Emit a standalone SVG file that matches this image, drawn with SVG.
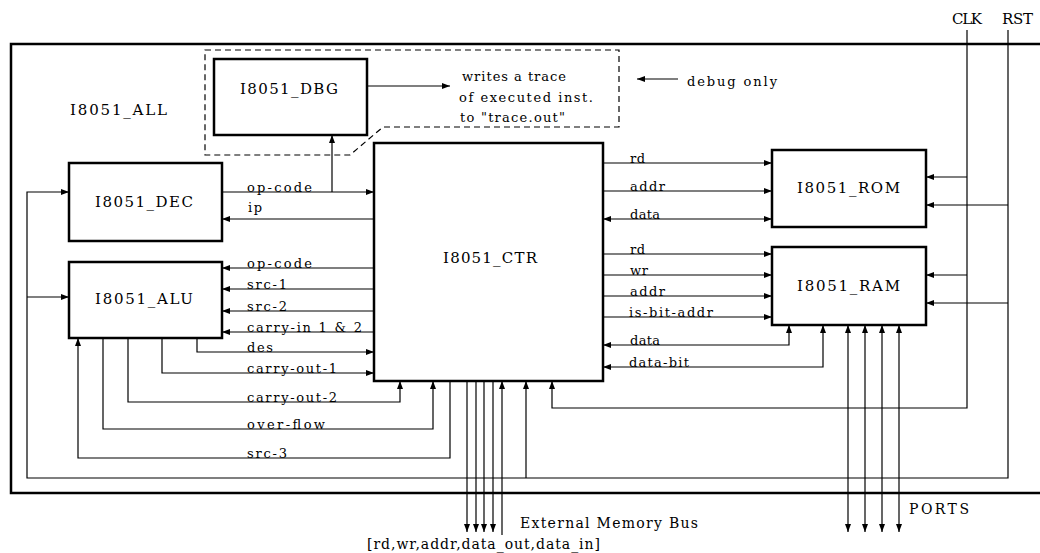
<svg xmlns="http://www.w3.org/2000/svg" width="1040" height="553" viewBox="0 0 1040 553">
<style>
.box{fill:#fff;stroke:#000;stroke-width:2.5}
.outer{fill:none;stroke:#000;stroke-width:2.5}
.dash{fill:none;stroke:#000;stroke-width:1.2;stroke-dasharray:6,4}
.w{fill:none;stroke:#000;stroke-width:1.2}
.a{marker-end:url(#ah)}
.b{marker-start:url(#ah);marker-end:url(#ah)}
text{font-family:"DejaVu Serif","Liberation Serif",serif;fill:#000}
.s{font-size:13px}
.m{font-size:14px}
.big{font-size:15px}
</style>
<defs>
<marker id="ah" viewBox="0 0 8 6" refX="8" refY="3" markerWidth="8" markerHeight="6" markerUnits="userSpaceOnUse" orient="auto-start-reverse">
<path d="M0,0 L8,3 L0,6 z" fill="#000"/>
</marker>
</defs>

<g id="I8051_ALL">
<rect class="outer" x="11" y="44" width="1040" height="449"/>
<text class="big" x="70" y="115" textLength="97">I8051_ALL</text>
</g>

<g id="debug-area">
<path class="dash" d="M205,50 H619 V127 H383 L350,155 H205 Z"/>
<text class="s" x="462" y="81" textLength="104">writes a trace</text>
<text class="s" x="459" y="102" textLength="134">of executed inst.</text>
<text class="s" x="460" y="122" textLength="105">to "trace.out"</text>
<text class="s" x="687" y="86" textLength="90">debug only</text>
</g>

<g id="I8051_DBG">
<rect class="box" x="214" y="59" width="153" height="76"/>
<text class="big" x="240" y="94" textLength="98">I8051_DBG</text>
</g>

<g id="I8051_DEC">
<rect class="box" x="69" y="163" width="153" height="78"/>
<text class="big" x="95" y="207" textLength="98">I8051_DEC</text>
</g>

<g id="I8051_ALU">
<rect class="box" x="69" y="262" width="153" height="76"/>
<text class="big" x="95" y="304" textLength="98">I8051_ALU</text>
</g>

<g id="I8051_CTR">
<rect class="box" x="374" y="143" width="229" height="238"/>
<text class="big" x="443" y="263" textLength="94">I8051_CTR</text>
</g>

<g id="I8051_ROM">
<rect class="box" x="772" y="150" width="154" height="77"/>
<text class="big" x="797" y="193" textLength="103">I8051_ROM</text>
</g>

<g id="I8051_RAM">
<rect class="box" x="772" y="247" width="154" height="78"/>
<text class="big" x="797" y="291" textLength="103">I8051_RAM</text>
</g>

<g id="connectors">
<path class="w a" d="M367,86 H450"/>
<path class="w a" d="M678,79 H637"/>
<path class="w a" d="M222,192 H374"/>
<path class="w a" d="M332,192 V135"/>
<path class="w a" d="M374,219 H222"/>
<path class="w a" d="M374,268 H222"/>
<path class="w a" d="M374,289 H222"/>
<path class="w a" d="M374,311 H222"/>
<path class="w a" d="M374,332 H222"/>
<path class="w a" d="M197,338 V352 H374"/>
<path class="w a" d="M162,338 V373 H374"/>
<path class="w a" d="M128,338 V402 H400 V381"/>
<path class="w a" d="M103,338 V429 H433 V381"/>
<path class="w a" d="M450,381 V458 H78 V338"/>
<path class="w a" d="M603,163 H772"/>
<path class="w a" d="M603,191 H772"/>
<path class="w b" d="M603,219 H772"/>
<path class="w a" d="M603,254 H772"/>
<path class="w a" d="M603,275 H772"/>
<path class="w a" d="M603,296 H772"/>
<path class="w a" d="M603,317 H772"/>
<path class="w b" d="M789,325 V345 H603"/>
<path class="w b" d="M823,325 V367 H603"/>
<path class="w a" d="M967,30 V408 H552 V381"/>
<path class="w a" d="M967,177 H926"/>
<path class="w a" d="M967,275 H926"/>
<path class="w a" d="M1008,30 V478 H27 V192 H69"/>
<path class="w a" d="M27,297 H69"/>
<path class="w a" d="M1008,205 H926"/>
<path class="w a" d="M1008,303 H926"/>
<path class="w a" d="M526,478 V381"/>
<path class="w a" d="M467,381 V532"/>
<path class="w a" d="M476,381 V532"/>
<path class="w a" d="M484,381 V532"/>
<path class="w a" d="M493,381 V532"/>
<path class="w a" d="M502,535 V381"/>
<path class="w b" d="M848,532 V325"/>
<path class="w b" d="M865,532 V325"/>
<path class="w b" d="M882,532 V325"/>
<path class="w b" d="M899,532 V325"/>
</g>

<g id="connector-labels">
<text class="s" x="247" y="192" textLength="65">op-code</text>
<text class="s" x="248" y="212" textLength="14">ip</text>
<text class="s" x="247" y="268" textLength="65">op-code</text>
<text class="s" x="247" y="289" textLength="40">src-1</text>
<text class="s" x="247" y="311" textLength="40">src-2</text>
<text class="s" x="247" y="332" textLength="115">carry-in 1 &amp; 2</text>
<text class="s" x="247" y="352" textLength="26">des</text>
<text class="s" x="247" y="373" textLength="90">carry-out-1</text>
<text class="s" x="247" y="402" textLength="90">carry-out-2</text>
<text class="s" x="247" y="429" textLength="78">over-flow</text>
<text class="s" x="247" y="458" textLength="40">src-3</text>
<text class="s" x="630" y="163" textLength="15">rd</text>
<text class="s" x="630" y="191" textLength="35">addr</text>
<text class="s" x="630" y="219" textLength="30">data</text>
<text class="s" x="630" y="254" textLength="15">rd</text>
<text class="s" x="630" y="275" textLength="18">wr</text>
<text class="s" x="630" y="296" textLength="35">addr</text>
<text class="s" x="629" y="317" textLength="84">is-bit-addr</text>
<text class="s" x="630" y="345" textLength="30">data</text>
<text class="s" x="629" y="367" textLength="60">data-bit</text>
<text class="big" x="952" y="24" textLength="30">CLK</text>
<text class="big" x="1002" y="24" textLength="31">RST</text>
<text class="m" x="520" y="528" textLength="178">External Memory Bus</text>
<text class="m" x="367" y="549" textLength="233">[rd,wr,addr,data_out,data_in]</text>
<text class="m" x="909" y="514" textLength="60">PORTS</text>
</g>
</svg>
